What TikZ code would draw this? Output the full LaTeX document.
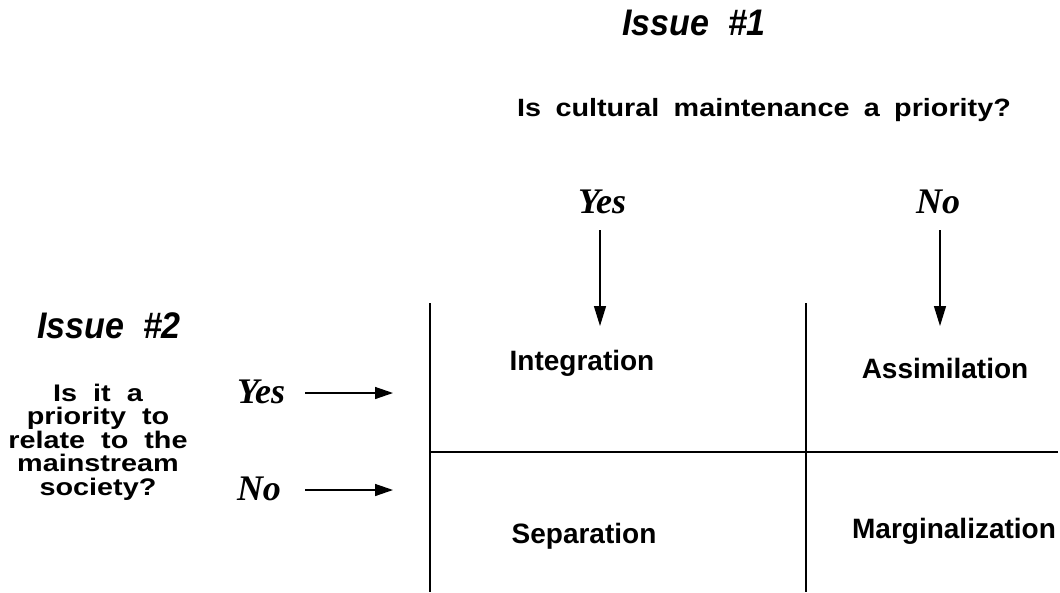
\documentclass[tikz,border=0pt]{standalone}
\usepackage{fontspec}
\setmainfont{Liberation Serif}
\setsansfont{Liberation Sans}
\newfontfamily\issuefont[FakeStretch=0.92]{Liberation Sans}
\newfontfamily\qfont[WordSpace=1.8,FakeStretch=1.15]{Liberation Sans}
\newfontfamily\qqfont[WordSpace=2,FakeStretch=1.2]{Liberation Sans}
\usetikzlibrary{arrows.meta}
\tikzset{
  issue/.style={font=\issuefont\bfseries\itshape\fontsize{37}{42}\selectfont, anchor=base, inner sep=0pt},
  question/.style={font=\qfont\bfseries\fontsize{25}{30}\selectfont, anchor=base, inner sep=0pt},
  yn/.style={font=\rmfamily\bfseries\itshape\fontsize{36}{40}\selectfont, anchor=base, inner sep=0pt},
  cell/.style={font=\sffamily\bfseries\fontsize{28}{32}\selectfont, anchor=base, inner sep=0pt},
  arr/.style={line width=1.4pt, -{Triangle[length=20pt,width=12pt]}},
  harr/.style={line width=1.4pt, -{Triangle[length=18pt,width=12pt]}},
  grid/.style={line width=1.8pt}
}
\begin{document}
\begin{tikzpicture}[x=1pt,y=-1pt]
\useasboundingbox (0,0) rectangle (1060,592);
% top heading
\node[issue] (i1) at (694,35) {Issue\ \ \#1};
\node[question] (q1) at (764,116) {Is cultural maintenance a priority?};
\node[yn] (y1) at (602,213) {Yes};
\node[yn] (n1) at (938,213) {No};
\coordinate (y1s) at (600,230);
\coordinate (n1s) at (940,230);
\coordinate (y1e) at (600,326);
\coordinate (n1e) at (940,326);
\draw[arr] (y1s) -- (y1e);
\draw[arr] (n1s) -- (n1e);
% left heading
\node[issue] (i2) at (109,338) {Issue\ \ \#2};
\node[inner sep=0pt, anchor=base, align=center, font=\qqfont\bfseries\fontsize{24}{23.5}\selectfont] (q2) at (98,495)
  {Is it a\\ priority to\\ relate to the\\ mainstream\\ society?};
\node[yn] (y2) at (261,403) {Yes};
\node[yn] (n2) at (259,500) {No};
\coordinate (y2s) at (305,393);
\coordinate (n2s) at (305,490);
\coordinate (y2e) at (393,393);
\coordinate (n2e) at (393,490);
\draw[harr] (y2s) -- (y2e);
\draw[harr] (n2s) -- (n2e);
% grid
\coordinate (a1) at (430,303);
\coordinate (a2) at (430,592);
\coordinate (b1) at (806,303);
\coordinate (b2) at (806,592);
\coordinate (h1) at (430,452);
\coordinate (h2) at (1058,452);
\draw[grid] (a1) -- (a2);
\draw[grid] (b1) -- (b2);
\draw[grid] (h1) -- (h2);
% cells
\node[cell] (c1) at (582,370) {Integration};
\node[cell] (c2) at (945,378) {Assimilation};
\node[cell] (c3) at (584,543) {Separation};
\node[cell] (c4) at (954,538) {Marginalization};
\end{tikzpicture}
\end{document}
